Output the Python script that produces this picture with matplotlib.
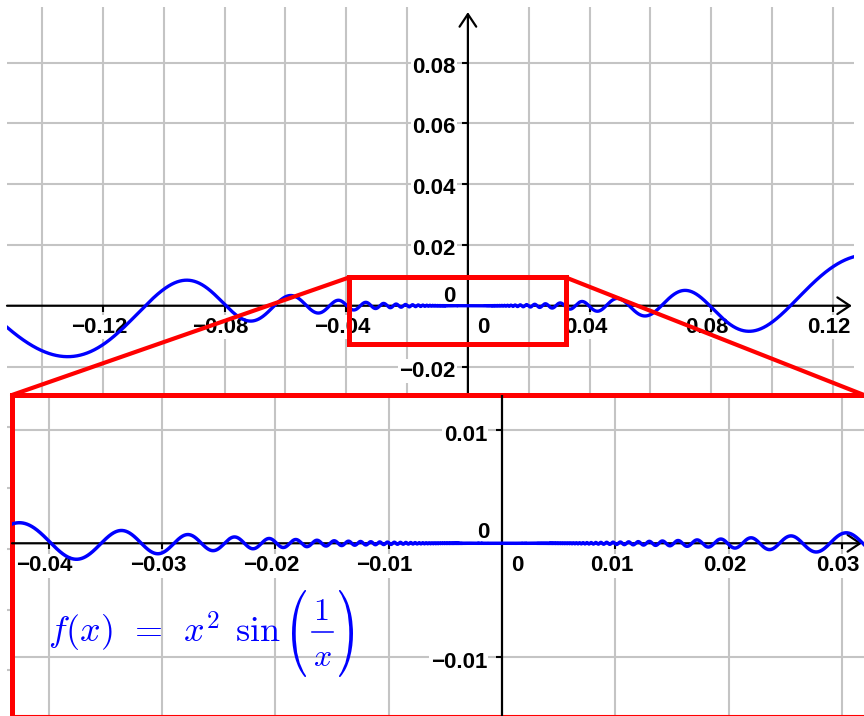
import numpy as np
import matplotlib.pyplot as plt
from matplotlib.patches import Rectangle, ConnectionPatch, PathPatch
from matplotlib.textpath import TextPath
from matplotlib.transforms import Affine2D, IdentityTransform
from matplotlib.lines import Line2D

plt.rcParams['mathtext.fontset'] = 'cm'

# ------------------------------------------------------------
# the plotted function, f(x) = x^2 sin(1/x)
# ------------------------------------------------------------
def f(x):
    out = np.zeros_like(x)
    nz = x != 0
    out[nz] = x[nz] ** 2 * np.sin(1.0 / x[nz])
    return out

# ---- overview panel ----
top_xlim = (-0.1516, 0.1270)
top_ylim = (-0.1350, 0.0983)
top_xgrid = [-0.14, -0.12, -0.10, -0.08, -0.06, -0.04, -0.02, 0.02, 0.04, 0.06, 0.08, 0.10, 0.12]
top_ygrid = [-0.12, -0.10, -0.08, -0.06, -0.04, -0.02, 0.02, 0.04, 0.06, 0.08]
top_xticks = [-0.12, -0.08, -0.04, 0.04, 0.08, 0.12]
top_xlabels = ['\u22120.12', '\u22120.08', '\u22120.04', '0.04', '0.08', '0.12']
top_yticks = [-0.02, 0.02, 0.04, 0.06, 0.08]
top_ylabels = ['\u22120.02', '0.02', '0.04', '0.06', '0.08']
top_arrow_ends = (0.1263, 0.0966)          # x-axis end, y-axis end
zoom_box = (-0.0391, -0.0126, 0.0322, 0.0093)   # x0, y0, x1, y1

# ---- zoomed panel ----
bot_xlim = (-0.04324, 0.03194)
bot_ylim = (-0.01519, 0.01304)
bot_xgrid = [-0.04, -0.03, -0.02, -0.01, 0.01, 0.02, 0.03]
bot_ygrid = [-0.01, 0.01]
bot_xticks = [-0.04, -0.03, -0.02, -0.01, 0.01, 0.02, 0.03]
bot_xlabels = ['\u22120.04', '\u22120.03', '\u22120.02', '\u22120.01', '0.01', '0.02', '0.03']
bot_yticks = [-0.01, 0.01]
bot_ylabels = ['\u22120.01', '0.01']
bot_arrow_end = 0.03177

formula_lhs = r'$f(x)\;\,=\;\,x^2\;\,\mathrm{sin}$'
formula_num = r'$1$'
formula_den = r'$x$'

GRID = '#c4c4c4'
BLUE = '#0000ff'
RED = '#ff0000'
lab_font = dict(family='Liberation Sans', weight='bold', size=16)
lab_box = dict(facecolor='white', edgecolor='none', pad=1)
W, H = 864, 716


def draw_panel(ax, xlim, ylim, xgrid, ygrid, xticks, xlabels, yticks, ylabels,
               xoff, yoff, x0off, y0off, lw_curve):
    ax.set_xlim(*xlim)
    ax.set_ylim(*ylim)
    ax.set_xticks([])
    ax.set_yticks([])
    for g in xgrid:
        ax.axvline(g, color=GRID, lw=1.5, zorder=1)
    for g in ygrid:
        ax.axhline(g, color=GRID, lw=1.5, zorder=1)
    for t, s in zip(xticks, xlabels):
        ax.annotate(s, xy=(t, 0), xytext=xoff, textcoords='offset pixels',
                    ha='center', va='baseline', bbox=lab_box, zorder=2, **lab_font)
    for t, s in zip(yticks, ylabels):
        ax.annotate(s, xy=(0, t), xytext=yoff, textcoords='offset pixels',
                    ha='right', va='baseline', bbox=lab_box, zorder=2, **lab_font)
    ax.annotate('0', xy=(0, 0), xytext=x0off, textcoords='offset pixels',
                ha='left', va='baseline', bbox=lab_box, zorder=2, **lab_font)
    ax.annotate('0', xy=(0, 0), xytext=y0off, textcoords='offset pixels',
                ha='right', va='baseline', bbox=lab_box, zorder=2, **lab_font)
    ax.plot(xticks, np.zeros(len(xticks)), ls='none', marker=3, ms=4, mew=1.5,
            color='black', zorder=3)
    ax.plot(np.zeros(len(yticks)), yticks, ls='none', marker=0, ms=4, mew=1.5,
            color='black', zorder=3)
    xs = np.linspace(xlim[0], xlim[1], 400001)
    ax.plot(xs, f(xs), color=BLUE, lw=lw_curve, zorder=4, solid_joinstyle='round')


def paren(ch, x0, x1, y0, y1):
    # stretched cm parenthesis placed in an image-pixel box
    tp = TextPath((0, 0), '$' + ch + '$', size=100)
    e = tp.get_extents()
    tr = (Affine2D().translate(-e.x0, -e.y0)
          .scale((x1 - x0) / e.width, (y1 - y0) / e.height)
          .translate(x0, H - y1))
    return PathPatch(tr.transform_path(tp), facecolor=BLUE, edgecolor='none',
                     transform=IdentityTransform(), zorder=8)


fig = plt.figure(figsize=(8.64, 7.16), dpi=100)

# overview axes
ax_top = fig.add_axes([7 / W, 0, (854 - 7) / W, (H - 7) / H])
for sp in ax_top.spines.values():
    sp.set_visible(False)
draw_panel(ax_top, top_xlim, top_ylim, top_xgrid, top_ygrid, top_xticks, top_xlabels,
           top_yticks, top_ylabels, (-4, -27), (-12, -10), (9, -27), (-12, 4), 2.4)
arrow = dict(arrowstyle='->,head_length=0.45,head_width=0.3', lw=1.6, color='black',
             shrinkA=0, shrinkB=0, mutation_scale=20)
ax_top.annotate('', xy=(top_arrow_ends[0], 0), xytext=(top_xlim[0], 0),
                arrowprops=arrow, zorder=3)
ax_top.annotate('', xy=(0, top_arrow_ends[1]), xytext=(0, top_ylim[0]),
                arrowprops=arrow, zorder=3)
bx0, by0, bx1, by1 = zoom_box
ax_top.add_patch(Rectangle((bx0, by0), bx1 - bx0, by1 - by0, fill=False,
                           edgecolor=RED, lw=3.6, zorder=6))

# zoomed axes
ax_bot = fig.add_axes([12 / W, 0, (W - 12) / W, (H - 395) / H])
ax_bot.set_facecolor('white')
draw_panel(ax_bot, bot_xlim, bot_ylim, bot_xgrid, bot_ygrid, bot_xticks, bot_xlabels,
           bot_yticks, bot_ylabels, (-4, -28), (-15, -11), (9, -28), (-13, 5), 2.5)
ax_bot.annotate('', xy=(bot_arrow_end, 0), xytext=(bot_xlim[0], 0),
                arrowprops=arrow, zorder=3)
ax_bot.axvline(0, color='black', lw=1.6, zorder=3)
for name, sp in ax_bot.spines.items():
    sp.set_color(RED)
    sp.set_linewidth(3.6)
ax_bot.spines['right'].set_visible(False)
ax_bot.spines['bottom'].set_linewidth(1.5)

# formula label
fig.text(48 / W, 1 - 643 / H, formula_lhs, color=BLUE, fontsize=26,
         ha='left', va='baseline', zorder=8)
fig.add_artist(paren('(', 292, 306, 590, 677))
fig.add_artist(paren(')', 339, 353, 590, 677))
fig.text(321 / W, 1 - 612 / H, formula_num, color=BLUE, fontsize=23,
         ha='center', va='center', zorder=8)
fig.text(322 / W, 1 - 658 / H, formula_den, color=BLUE, fontsize=23,
         ha='center', va='center', zorder=8)
fig.add_artist(Line2D([312 / W, 333 / W], [1 - 632 / H, 1 - 632 / H], color=BLUE,
                      lw=1.1, transform=fig.transFigure, zorder=8))

# connector lines from the zoom box to the zoomed panel
for xa, xb in [(bx0, 0), (bx1, 1)]:
    cp = ConnectionPatch(xyA=(xa, by1), coordsA=ax_top.transData,
                         xyB=(xb, 1), coordsB=ax_bot.transAxes,
                         color=RED, lw=3, zorder=7)
    fig.add_artist(cp)

fig.savefig('out.png', dpi=100)
